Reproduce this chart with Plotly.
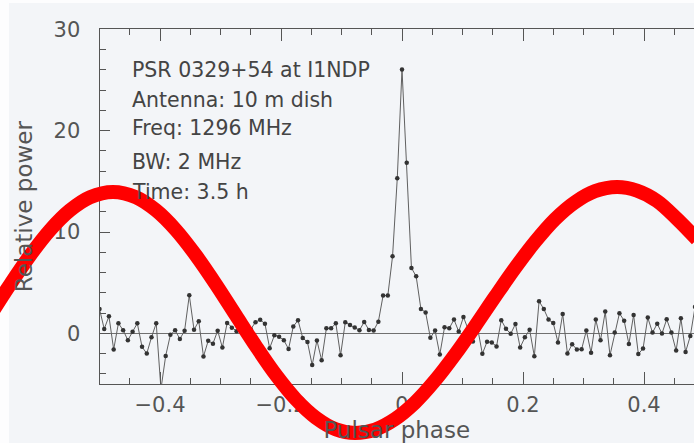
import numpy as np
import plotly.graph_objects as go

# ---- data: pulsar profile (128 phase bins, -0.5 .. 0.5) ----
n_bins = 128
phase = -0.5 + np.arange(n_bins) / n_bins
power = [
    2.4, 0.43, 1.68, -1.6, 0.99, 0.31, -0.68, 0.15, 0.99, -1.34,
    -2.0, -0.39, 0.99, -5.5, -2.24, -0.15, 0.30, -0.56, 0.25, 3.75,
    0.35, 1.2, -2.28, -0.74, -1.02, 0.26, -1.41, 1.02, 0.56, 0.2,
    0.7, 0.92, 0.4, 1.1, 1.33, 0.95, -1.47, -0.2, -0.33, -0.68,
    -1.55, 0.68, 1.28, -0.46, -0.87, -3.14, -0.7, -2.66, 0.49, 0.49,
    0.99, -2.17, 1.08, 0.82, 0.58, 0.3, 1.12, 0.33, 0.28, 1.15,
    3.72, 3.72, 7.6, 15.3, 26.05, 16.84, 6.45, 5.62, 2.4, 2.06,
    -0.45, 0.27, -2.1, 0.6, 0.5, 1.36, 0.17, 1.6, 0.3, -0.8,
    0.5, -2.03, -0.83, -0.9, -1.3, 1.3, 0.45, -0.05, 0.92, -1.4,
    -0.4, 0.36, -2.27, 3.16, 2.4, 1.35, 1.02, -0.9, 1.91, -2.0,
    -1.07, -1.6, -1.58, 0.27, -1.92, 1.35, -0.69, 2.14, -2.17, 0.07,
    1.97, 1.25, -1.05, 1.81, -2.04, -1.51, 1.55, 0.07, 0.95, -0.03,
    1.38, 0.07, -1.71, 1.48, -1.84, -0.26, 2.6, 0.5,
]

# ---- data: red overlay curve (phase / power units) ----
red_phase = [-0.6810, -0.6479, -0.6149, -0.5818, -0.5488, -0.5157, -0.4777, -0.4397,
             -0.4066, -0.3736, -0.3405, -0.3074, -0.2744, -0.2413, -0.2083, -0.1752,
             -0.1421, -0.1091, -0.0777, -0.0446, -0.0116, 0.0215, 0.0545, 0.0876,
             0.1207, 0.1537, 0.1868, 0.2198, 0.2529, 0.2860, 0.3190, 0.3554,
             0.3884, 0.4215, 0.4545, 0.4876]
red_power = [1.75, 4.81, 7.68, 10.19, 12.14, 13.43, 13.95, 13.43,
             12.14, 10.19, 7.68, 4.81, 1.75, -1.29, -4.12, -6.53,
             -8.34, -9.48, -9.84, -9.50, -8.47, -6.84, -4.67, -2.11,
             0.70, 3.60, 6.43, 9.02, 11.26, 12.94, 14.03, 14.44,
             14.09, 13.07, 11.30, 9.27]

# ---- text ----
info_lines = ["PSR 0329+54 at I1NDP", "Antenna: 10 m dish", "Freq: 1296 MHz",
              "BW: 2 MHz", "Time: 3.5 h"]
x_title = "Pulsar phase"
y_title = "Relative power"

W, H = 694, 443
FONT = "DejaVu Sans"
INK = "#555555"
BG = "#f3f5f8"

fig = go.Figure()
fig.add_trace(go.Scatter(
    x=phase, y=power, mode="lines+markers",
    line=dict(color="#606060", width=1),
    marker=dict(color="#333333", size=4.5),
    xaxis="x", yaxis="y", showlegend=False, hoverinfo="skip",
))
fig.add_trace(go.Scatter(
    x=red_phase, y=red_power, mode="lines",
    line=dict(color="#ff0000", width=14, shape="spline", smoothing=1.0),
    xaxis="x2", yaxis="y2", showlegend=False, hoverinfo="skip",
))

# pixel geometry of the frame
x0_px, px_per_x = 402.0, 605.0
y0_px, px_per_y = 333.3, 10.13
xr = [-0.5, (W - x0_px) / px_per_x]
yr = [-5, 30]
dom_x = [(x0_px + xr[0] * px_per_x) / W, 1.0]
dom_y = [(H - (y0_px - yr[0] * px_per_y)) / H, (H - (y0_px - yr[1] * px_per_y)) / H]

annotations = []
caps_center = [70.8, 101.3, 128.8, 162.7, 193.0]
for txt, yc in zip(info_lines, caps_center):
    annotations.append(dict(
        text=txt, xref="paper", yref="paper", x=129.5 / W, y=1 - (yc - 1) / H,
        xanchor="left", yanchor="middle", showarrow=False,
        font=dict(family=FONT, size=20.5, color="#444444"),
    ))

fig.update_layout(
    width=W, height=H, autosize=False,
    margin=dict(l=0, r=0, t=0, b=0, pad=0),
    paper_bgcolor=BG, plot_bgcolor="rgba(0,0,0,0)",
    font=dict(family=FONT, color=INK),
    annotations=annotations,
    shapes=[
        dict(type="rect", xref="paper", yref="paper", x0=0, x1=9 / W, y0=0, y1=1,
             fillcolor="#fdfdfe", line=dict(width=0), layer="below"),
        dict(type="rect", xref="paper", yref="paper", x0=0, x1=1, y0=1 - 3 / H, y1=1,
             fillcolor="#fdfdfe", line=dict(width=0), layer="below"),
    ],
    xaxis=dict(
        domain=dom_x, range=xr, anchor="y", automargin=False,
        showline=True, linecolor=INK, linewidth=1, mirror="ticks",
        ticks="inside", ticklen=12, tickwidth=1, tickcolor=INK,
        tick0=0, dtick=0.2, showgrid=False, zeroline=False,
        minor=dict(dtick=0.05, tick0=0, ticks="inside", ticklen=6, tickcolor=INK, showgrid=False),
        tickfont=dict(family=FONT, size=21, color=INK),
        ticklabelstandoff=2,
        title=dict(text=x_title, font=dict(family=FONT, size=23, color=INK), standoff=6),
    ),
    yaxis=dict(
        domain=dom_y, range=yr, anchor="x", automargin=False,
        showline=True, linecolor=INK, linewidth=1, mirror=False,
        ticks="inside", ticklen=10, tickwidth=1, tickcolor=INK,
        tick0=0, dtick=10, showgrid=False,
        zeroline=True, zerolinecolor="#707070", zerolinewidth=1,
        minor=dict(dtick=2, tick0=0, ticks="inside", ticklen=6, tickcolor=INK, showgrid=False),
        tickfont=dict(family=FONT, size=21, color=INK),
        ticklabelstandoff=14,
        title=dict(text=y_title, font=dict(family=FONT, size=23, color=INK), standoff=14),
    ),
    xaxis2=dict(domain=[0, 1], anchor="y2", visible=False, automargin=False,
                range=[(0 - x0_px) / px_per_x, (W - x0_px) / px_per_x]),
    yaxis2=dict(domain=[0, 1], anchor="x2", visible=False, automargin=False,
                range=[(y0_px - H) / px_per_y, y0_px / px_per_y]),
)

fig.write_html("out.html")
